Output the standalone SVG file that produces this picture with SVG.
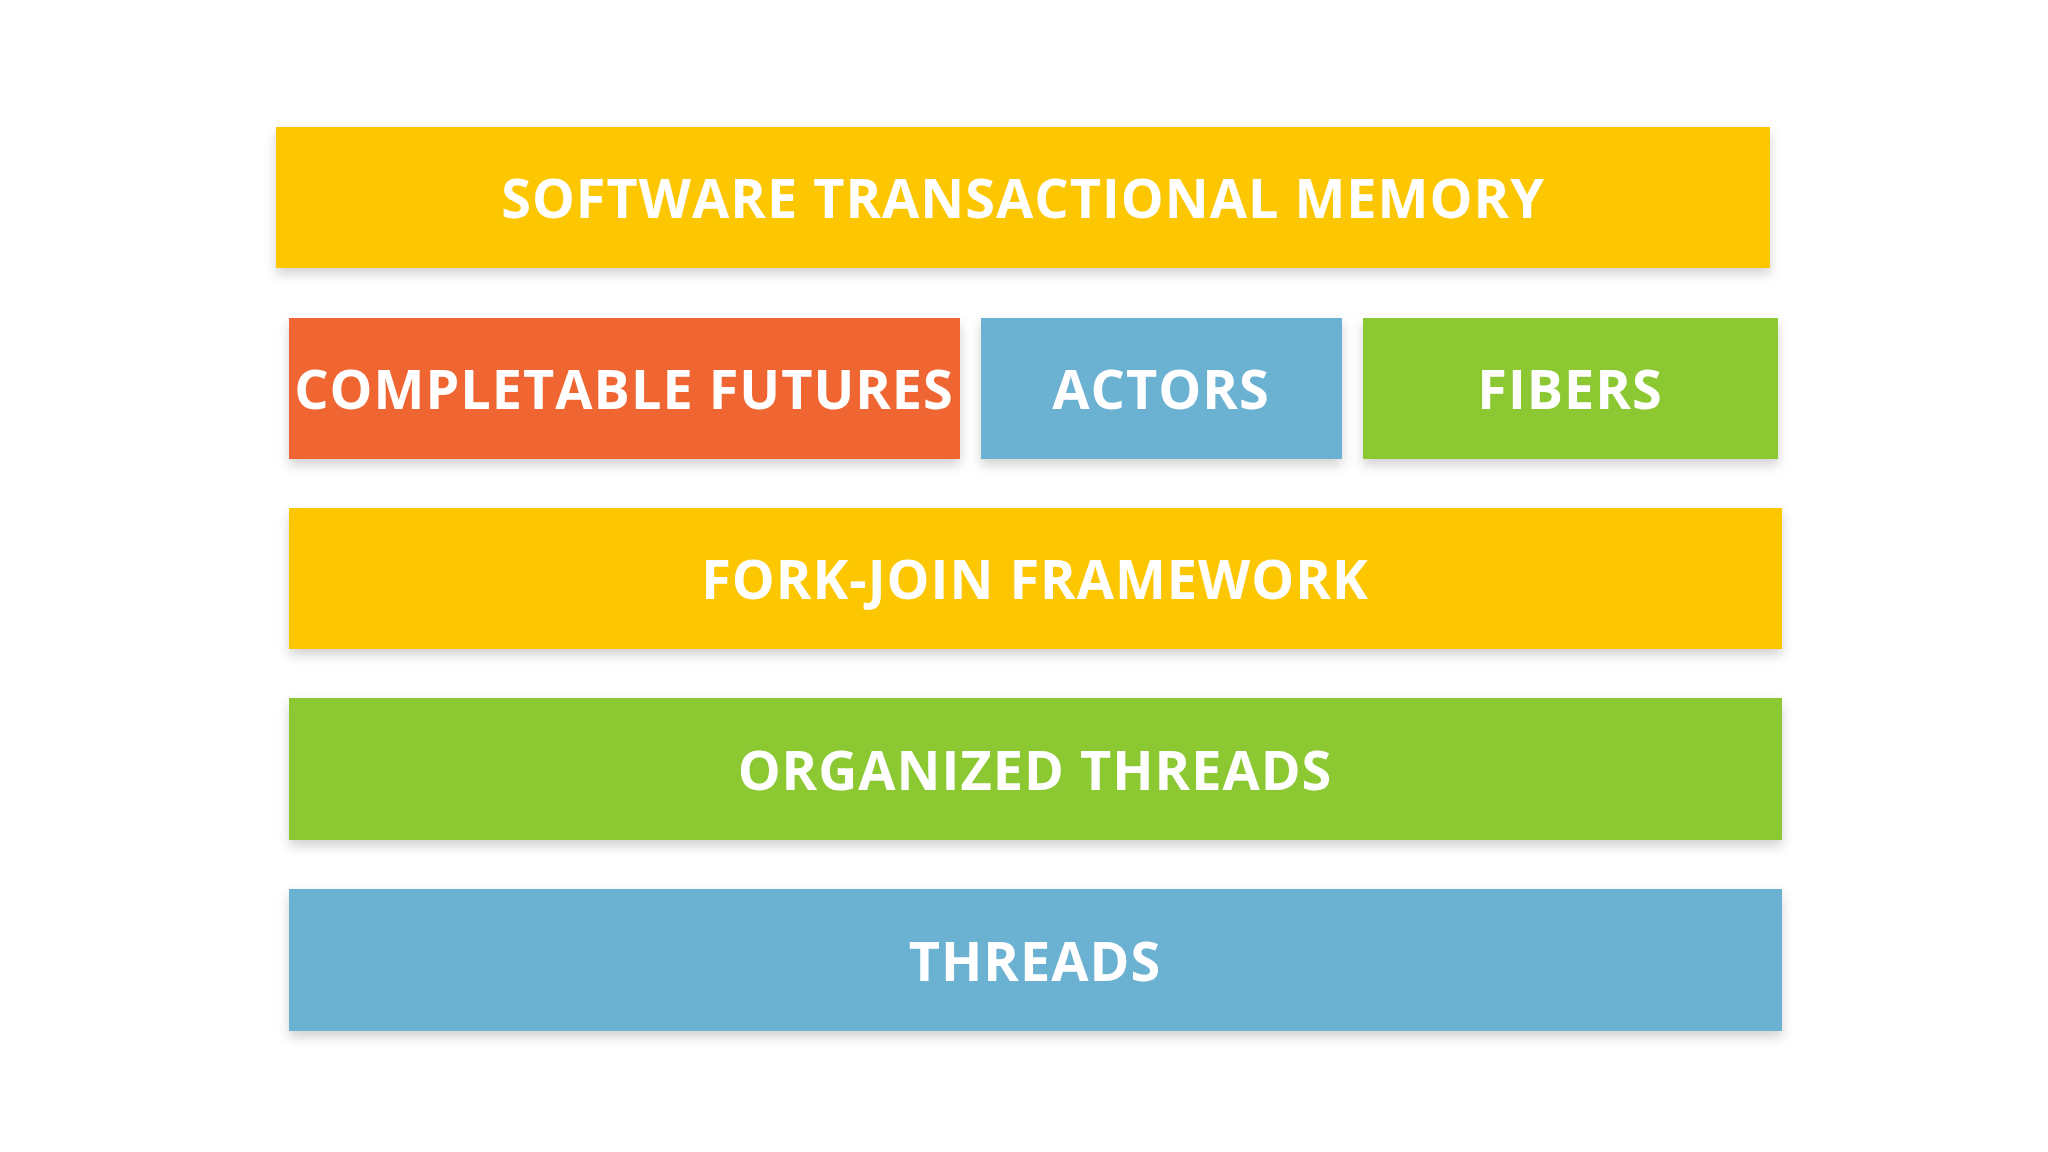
<svg xmlns="http://www.w3.org/2000/svg" width="2048" height="1152" viewBox="0 0 2048 1152">
<defs>
<filter id="sh" x="-5%" y="-20%" width="110%" height="150%"><feDropShadow dx="0" dy="6" stdDeviation="6" flood-color="#000" flood-opacity="0.18"/></filter>
<style>
.b{filter:url(#sh)}
.t{font-family:"Open Sans","Noto Sans",sans-serif;font-weight:bold;font-size:54px;fill:#fff;text-anchor:middle;letter-spacing:1px}
</style>
</defs>
<rect width="2048" height="1152" fill="#fff"/>
<g id="stm"><rect class="b" x="276" y="127" width="1494" height="141" fill="#FCC600"/><text class="t" x="1023" y="218">SOFTWARE TRANSACTIONAL MEMORY</text></g>
<g id="cf"><rect class="b" x="289" y="318" width="671" height="141" fill="#EF6632"/><text class="t" x="624" y="409">COMPLETABLE FUTURES</text></g>
<g id="actors"><rect class="b" x="981" y="318" width="361" height="141" fill="#6AB1D2"/><text class="t" x="1161" y="409">ACTORS</text></g>
<g id="fibers"><rect class="b" x="1363" y="318" width="415" height="141" fill="#8BC832"/><text class="t" x="1570" y="409">FIBERS</text></g>
<g id="fj"><rect class="b" x="289" y="508" width="1493" height="141" fill="#FCC600"/><text class="t" x="1035" y="599">FORK-JOIN FRAMEWORK</text></g>
<g id="ot"><rect class="b" x="289" y="698" width="1493" height="142" fill="#8BC832"/><text class="t" x="1035" y="790">ORGANIZED THREADS</text></g>
<g id="th"><rect class="b" x="289" y="889" width="1493" height="142" fill="#6AB1D2"/><text class="t" x="1035" y="981">THREADS</text></g>
<g id="connectors"/>
</svg>
